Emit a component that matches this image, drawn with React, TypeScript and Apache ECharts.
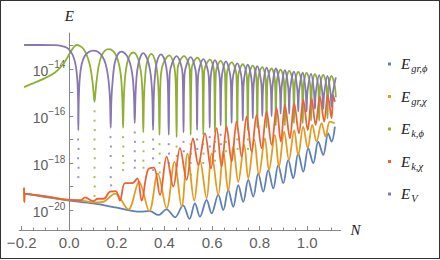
import React, { useEffect, useRef } from "react";
import * as echarts from "echarts";

// x = N (e-folds), y = log10(E)
const X_MAJOR = [-0.2, 0, 0.2, 0.4, 0.6, 0.8, 1.0];
const X_MINOR = [-0.15, -0.1, -0.05, 0.05, 0.1, 0.15, 0.25, 0.3, 0.35, 0.45, 0.5, 0.55, 0.65, 0.7, 0.75, 0.85, 0.9, 0.95, 1.05, 1.1];
const Y_TICKS = [-20, -19, -18, -17, -16, -15, -14, -13];
const Y_LABELS = [-20, -18, -16, -14];
const X_MIN = -0.21;
const X_MAX = 1.14;

const NAMES = ["Egrphi", "Egrchi", "Ekphi", "Ekchi", "EV"];
const LEGEND_SUB = ["gr,ϕ", "gr,χ", "k,ϕ", "k,χ", "V"];
const COLORS = ["#5E81B5", "#E19C24", "#8FB032", "#EB6235", "#8778B3"];

const E_GR_PHI: [number, number][] = [
  [-0.19, -19.3], [-0.1, -19.45], [0.0, -19.6], [0.1, -19.72], [0.2, -19.9], [0.297, -20.07], [0.339, -20.05],
  [0.374, -20.21], [0.409, -19.97], [0.444, -20.31], [0.478, -19.8], [0.505, -20.38], [0.528, -19.72],
  [0.549, -20.28], [0.577, -19.57], [0.598, -20.14], [0.626, -19.36], [0.647, -20.0], [0.668, -19.15],
  [0.689, -19.86], [0.71, -18.94], [0.731, -19.65], [0.752, -18.72], [0.773, -19.43], [0.794, -18.44],
  [0.815, -19.22], [0.836, -18.3], [0.857, -19.08], [0.878, -18.09], [0.899, -18.86], [0.92, -17.87],
  [0.941, -18.65], [0.962, -17.59], [0.983, -18.37], [1.004, -17.37], [1.025, -18.01], [1.046, -17.09],
  [1.067, -17.66], [1.088, -16.74], [1.102, -17.09], [1.116, -16.45],
];

const E_GR_CHI: [number, number][] = [
  [-0.19, -19.05], [-0.189, -19.66], [-0.187, -19.3], [-0.1, -19.42], [0.0, -19.57], [0.05, -19.6],
  [0.08, -19.65], [0.12, -19.68], [0.15, -19.62], [0.192, -19.3], [0.248, -19.97], [0.293, -18.8],
  [0.336, -20.05], [0.372, -18.45], [0.409, -19.93], [0.442, -17.95], [0.472, -19.86], [0.497, -17.6],
  [0.525, -19.6], [0.549, -17.87], [0.577, -19.5], [0.598, -17.59], [0.626, -19.36], [0.647, -17.5],
  [0.668, -19.2], [0.689, -17.3], [0.71, -18.8], [0.735, -17.23], [0.752, -18.65], [0.777, -17.02],
  [0.797, -18.51], [0.822, -16.95], [0.839, -18.3], [0.864, -16.81], [0.881, -18.16], [0.903, -16.67],
  [0.923, -17.87], [0.945, -16.6], [0.962, -17.66], [0.983, -16.45], [1.002, -17.37], [1.021, -16.38],
  [1.039, -17.09], [1.06, -16.31], [1.077, -16.88], [1.095, -16.24], [1.116, -16.31],
];

const E_K_PHI: [number, number][] = [
  [-0.19, -14.77], [-0.15, -14.6], [-0.1, -14.38], [-0.06, -14.15], [-0.03, -13.85], [-0.01, -13.55],
  [0.005, -13.28], [0.018, -13.08], [0.031, -12.98], [0.045, -13.02], [0.06, -13.15], [0.075, -13.45],
  [0.088, -13.9], [0.097, -14.5], [0.102, -15.0], [0.106, -15.4], [0.11, -15.0], [0.115, -14.5],
  [0.123, -13.9], [0.135, -13.45], [0.15, -13.22], [0.168, -13.16], [0.185, -13.25], [0.198, -13.45],
  [0.21, -13.85], [0.218, -14.4], [0.223, -15.3], [0.226, -16.5], [0.229, -15.3], [0.234, -14.4],
  [0.242, -13.8], [0.254, -13.42], [0.269, -13.3], [0.283, -13.42], [0.294, -13.75], [0.303, -14.3],
  [0.308, -15.2], [0.311, -16.7], [0.314, -15.2], [0.319, -14.3], [0.327, -13.7], [0.345, -13.36],
  [0.362, -13.7], [0.371, -14.3], [0.376, -15.2], [0.379, -16.8], [0.383, -14.6], [0.392, -13.85],
  [0.42, -13.42], [0.44, -13.85], [0.447, -14.6], [0.451, -16.9],
  [0.455, -14.0], [0.482, -13.45], [0.506, -14.0], [0.51, -16.8],
  [0.514, -14.0], [0.538, -13.52], [0.559, -14.05], [0.563, -16.8],
  [0.567, -14.1], [0.591, -13.6], [0.608, -14.1], [0.612, -16.7],
  [0.616, -14.16], [0.636, -13.66], [0.654, -14.16], [0.658, -16.7],
  [0.662, -14.22], [0.682, -13.72], [0.702, -14.22], [0.706, -16.6],
  [0.71, -14.3], [0.729, -13.8], [0.746, -14.3], [0.75, -16.6],
  [0.754, -14.36], [0.771, -13.86], [0.786, -14.36], [0.79, -16.5],
  [0.794, -14.42], [0.811, -13.92], [0.825, -14.42], [0.829, -16.5],
  [0.833, -14.48], [0.85, -13.98], [0.864, -14.48], [0.868, -16.4],
  [0.872, -14.53], [0.888, -14.03], [0.902, -14.53], [0.906, -16.4],
  [0.91, -14.58], [0.924, -14.08], [0.94, -14.58], [0.944, -16.3],
  [0.948, -14.62], [0.962, -14.12], [0.977, -14.62], [0.981, -16.3],
  [0.985, -14.67], [0.997, -14.17], [1.012, -14.67], [1.016, -16.2],
  [1.02, -14.72], [1.032, -14.22], [1.046, -14.72], [1.05, -16.2],
  [1.054, -14.75], [1.067, -14.25], [1.081, -14.75], [1.085, -16.1],
  [1.089, -14.8], [1.102, -14.3], [1.115, -14.7], [1.12, -15.2],
];

const E_K_CHI: [number, number][] = [
  [-0.19, -19.05], [-0.189, -19.66], [-0.187, -19.3], [-0.1, -19.42], [0.0, -19.57], [0.05, -19.58],
  [0.066, -19.46], [0.1, -19.62], [0.12, -19.52], [0.145, -19.52], [0.171, -19.22], [0.195, -19.2],
  [0.213, -19.6], [0.234, -18.86], [0.265, -18.86], [0.286, -18.65], [0.304, -19.6], [0.33, -18.3],
  [0.355, -18.2], [0.381, -19.36], [0.409, -17.73], [0.437, -19.0], [0.465, -17.37], [0.493, -18.72],
  [0.52, -16.95], [0.542, -18.09], [0.57, -16.74], [0.595, -18.23], [0.619, -16.52], [0.64, -18.16],
  [0.661, -16.45], [0.682, -17.94], [0.703, -16.24], [0.724, -17.73], [0.745, -16.03], [0.766, -17.52],
  [0.787, -15.96], [0.808, -17.37], [0.829, -15.82], [0.85, -17.23], [0.871, -15.67], [0.889, -17.09],
  [0.906, -15.53], [0.927, -16.95], [0.945, -15.46], [0.965, -16.74], [0.983, -15.32], [1.002, -16.6],
  [1.018, -15.25], [1.035, -16.38], [1.053, -15.18], [1.071, -16.24], [1.086, -15.11], [1.102, -16.1],
  [1.109, -15.11], [1.116, -15.4],
];

const E_V: [number, number][] = [
  [-0.19, -12.98], [-0.12, -12.98], [-0.06, -12.99], [-0.03, -13.03], [-0.01, -13.1], [0.005, -13.25],
  [0.018, -13.5], [0.028, -13.9], [0.034, -14.5], [0.037, -15.3], [0.038, -16.6],
  [0.04, -15.3], [0.044, -14.4], [0.052, -13.8], [0.065, -13.45], [0.082, -13.28], [0.1, -13.22],
  [0.12, -13.27], [0.138, -13.45], [0.153, -13.8], [0.164, -14.4], [0.171, -15.3], [0.174, -16.5],
  [0.177, -15.3], [0.183, -14.4], [0.19, -13.8], [0.2, -13.45], [0.21, -13.3], [0.22, -13.26],
  [0.235, -13.35], [0.248, -13.55], [0.259, -13.9], [0.267, -14.4], [0.272, -15.2], [0.275, -16.3],
  [0.278, -15.2], [0.283, -14.3], [0.29, -13.8], [0.3, -13.45], [0.311, -13.33], [0.322, -13.45],
  [0.333, -13.75], [0.343, -14.3], [0.349, -15.2], [0.352, -16.6],
  [0.355, -15.2], [0.36, -14.3], [0.368, -13.7], [0.385, -13.38], [0.398, -13.55], [0.408, -13.95],
  [0.414, -14.6], [0.418, -16.8],
  [0.422, -14.2], [0.451, -13.45], [0.476, -14.2], [0.48, -16.7],
  [0.484, -14.25], [0.51, -13.5], [0.533, -14.25], [0.537, -16.6],
  [0.541, -14.33], [0.563, -13.58], [0.586, -14.33], [0.59, -16.5],
  [0.594, -14.37], [0.612, -13.62], [0.632, -14.37], [0.636, -16.4],
  [0.64, -14.43], [0.658, -13.68], [0.678, -14.43], [0.682, -16.3],
  [0.686, -14.5], [0.706, -13.76], [0.725, -14.5], [0.729, -16.2],
  [0.733, -14.57], [0.75, -13.82], [0.767, -14.57], [0.771, -16.1],
  [0.775, -14.63], [0.79, -13.88], [0.807, -14.63], [0.811, -16.0],
  [0.815, -14.7], [0.829, -13.94], [0.846, -14.7], [0.85, -16.0],
  [0.854, -14.73], [0.868, -13.98], [0.884, -14.73], [0.888, -15.9],
  [0.892, -14.8], [0.906, -14.05], [0.92, -14.8], [0.924, -15.9],
  [0.928, -14.86], [0.944, -14.11], [0.958, -14.86], [0.962, -15.8],
  [0.966, -14.9], [0.981, -14.16], [0.993, -14.9], [0.997, -15.8],
  [1.001, -14.95], [1.016, -14.21], [1.028, -14.95], [1.032, -15.7],
  [1.036, -15.0], [1.05, -14.26], [1.063, -15.0], [1.067, -15.7],
  [1.071, -15.05], [1.085, -14.3], [1.098, -15.05], [1.102, -15.6],
  [1.106, -15.1], [1.12, -14.36],
];

// sparse sample points below the steep minima (drawn as dots)
const E_K_PHI_DOTS: [number, number][] = [
  [0.106, -15.8], [0.106, -16.2], [0.107, -16.6], [0.106, -17.0], [0.106, -17.4], [0.107, -17.8],
  [0.106, -18.2], [0.106, -18.6], [0.107, -19.0], [0.106, -19.4],
  [0.226, -16.9], [0.227, -17.3], [0.226, -17.7], [0.227, -18.0], [0.226, -18.3],
  [0.311, -17.1], [0.312, -17.5], [0.311, -17.9], [0.312, -18.2],
  [0.379, -17.2], [0.38, -17.6], [0.379, -18.0], [0.38, -18.4],
  [0.451, -17.3], [0.452, -17.7], [0.451, -18.1],
  [0.51, -17.2], [0.511, -17.6], [0.51, -18.0], [0.511, -18.5],
  [0.563, -17.2], [0.564, -17.6], [0.563, -18.0],
  [0.612, -17.1], [0.613, -17.5], [0.612, -17.9],
  [0.658, -17.1], [0.659, -17.5], [0.706, -17.0], [0.707, -17.4], [0.75, -17.0], [0.751, -17.4],
];

const E_V_DOTS: [number, number][] = [
  [0.037, -17.0], [0.039, -17.4], [0.037, -17.8], [0.039, -18.2], [0.038, -18.6],
  [0.173, -16.9], [0.175, -17.3], [0.174, -17.7], [0.175, -18.2], [0.174, -18.6], [0.176, -18.95],
  [0.275, -16.7], [0.276, -17.1], [0.275, -17.5], [0.276, -17.9], [0.275, -18.2],
  [0.352, -17.0], [0.353, -17.4], [0.352, -17.8], [0.353, -18.3],
  [0.418, -17.2], [0.419, -17.6], [0.418, -18.0],
  [0.48, -17.1], [0.481, -17.5], [0.537, -17.0], [0.538, -17.4],
  [0.59, -16.9], [0.591, -17.3], [0.636, -16.8], [0.637, -17.2],
];

const SERIES_DATA = [E_GR_PHI, E_GR_CHI, E_K_PHI, E_K_CHI, E_V];

const SANS = "'Liberation Sans', Arial, sans-serif";
const SERIF = "'Liberation Serif', 'DejaVu Serif', serif";

const GRID_LEFT = 19.3;
const GRID_RIGHT = 99.4;
const CHART_W = 440;

function fmtX(v: number): string {
  const s = Math.abs(v).toFixed(1);
  return v < -1e-9 ? "\u2212" + s : s;
}

export default function App() {
  const ref = useRef<HTMLDivElement>(null);
  useEffect(() => {
    if (!ref.current) return;
    const chart = echarts.init(ref.current, undefined, { renderer: "svg" });
    // shift the y axis from the grid's left edge to N = 0
    const gridW = CHART_W - GRID_LEFT - GRID_RIGHT;
    const yOffset = -gridW * (0 - X_MIN) / (X_MAX - X_MIN);
    const lineSeries = SERIES_DATA.map((d, i) => ({
      name: NAMES[i],
      type: "line",
      data: d,
      showSymbol: false,
      symbol: "none",
      smooth: 0.35,
      lineStyle: { color: COLORS[i], width: 1.8 },
      itemStyle: { color: COLORS[i] },
      silent: true,
      z: 2 + i,
    }));
    const dots = [
      { data: E_K_PHI_DOTS, color: COLORS[2], z: 4 },
      { data: E_V_DOTS, color: COLORS[4], z: 6 },
    ].map((d) => ({
      type: "scatter",
      data: d.data,
      symbol: "rect",
      symbolSize: 2,
      itemStyle: { color: d.color },
      silent: true,
      z: d.z,
    }));
    const legendText: Record<string, string> = {};
    NAMES.forEach((n, i) => {
      legendText[n] = `{e|E}{s|${LEGEND_SUB[i]}}`;
    });
    chart.setOption({
      animation: false,
      grid: { left: GRID_LEFT, right: GRID_RIGHT, top: 33, bottom: 30, containLabel: false, outerBoundsMode: "none" },
      legend: {
        orient: "vertical",
        left: 383,
        top: 49,
        itemWidth: 3,
        itemHeight: 3,
        itemGap: 12.5,
        icon: "rect",
        selectedMode: false,
        data: NAMES,
        formatter: (n: string) => legendText[n],
        textStyle: {
          rich: {
            e: { fontFamily: SERIF, fontStyle: "italic", fontSize: 15, color: "#222", lineHeight: 18, padding: [0, 0, 0, 5] },
            s: { fontFamily: SERIF, fontStyle: "italic", fontSize: 10.5, color: "#222", lineHeight: 10, padding: [9, 0, 0, 1] },
          },
        },
      },
      xAxis: [
        {
          type: "value",
          min: X_MIN,
          max: X_MAX,
          position: "bottom",
          name: "N",
          nameLocation: "end",
          nameGap: 10,
          nameTextStyle: { fontFamily: SERIF, fontStyle: "italic", fontSize: 15, color: "#222", verticalAlign: "middle" },
          axisLine: { show: true, onZero: false, lineStyle: { color: "#888", width: 1 } },
          axisTick: { show: true, inside: true, length: 4, customValues: X_MAJOR, lineStyle: { color: "#888" } },
          axisLabel: { show: true, customValues: X_MAJOR, formatter: fmtX, fontFamily: SANS, fontSize: 15, color: "#606060", margin: 5 },
          splitLine: { show: false },
        },
        {
          type: "value",
          min: X_MIN,
          max: X_MAX,
          position: "bottom",
          offset: 0,
          axisLine: { show: false, onZero: false },
          axisTick: { show: true, inside: true, length: 2.5, customValues: X_MINOR, lineStyle: { color: "#888" } },
          axisLabel: { show: false },
          splitLine: { show: false },
        },
      ],
      yAxis: {
        type: "value",
        min: -20.85,
        max: -12.47,
        position: "left",
        offset: yOffset,
        name: "E",
        nameLocation: "end",
        nameGap: 10,
        nameTextStyle: { fontFamily: SERIF, fontStyle: "italic", fontSize: 15, color: "#222" },
        axisLine: { show: true, onZero: false, lineStyle: { color: "#888", width: 1 } },
        axisTick: { show: true, inside: true, length: 4, customValues: Y_TICKS, lineStyle: { color: "#888" } },
        axisLabel: {
          show: true,
          customValues: Y_LABELS,
          margin: 4,
          formatter: (v: number) => `{b|10}{s|\u2212${Math.round(-v)}}`,
          rich: {
            b: { fontFamily: SANS, fontSize: 14, color: "#606060", lineHeight: 18, verticalAlign: "bottom" },
            s: { fontFamily: SANS, fontSize: 10, color: "#606060", lineHeight: 18, verticalAlign: "top" },
          },
        },
        splitLine: { show: false },
      },
      series: [
        lineSeries[0],
        lineSeries[1],
        lineSeries[2],
        dots[0],
        lineSeries[3],
        lineSeries[4],
        dots[1],
      ],
    });
    return () => chart.dispose();
  }, []);
  return (
    <div
      style={{
        position: "fixed",
        left: 0,
        top: 0,
        width: 440,
        height: 259,
        boxSizing: "border-box",
        border: "1px solid #333",
        background: "#fff",
        overflow: "hidden",
      }}
    >
      <div ref={ref} style={{ position: "absolute", left: -1, top: -1, width: 440, height: 260 }} />
    </div>
  );
}
